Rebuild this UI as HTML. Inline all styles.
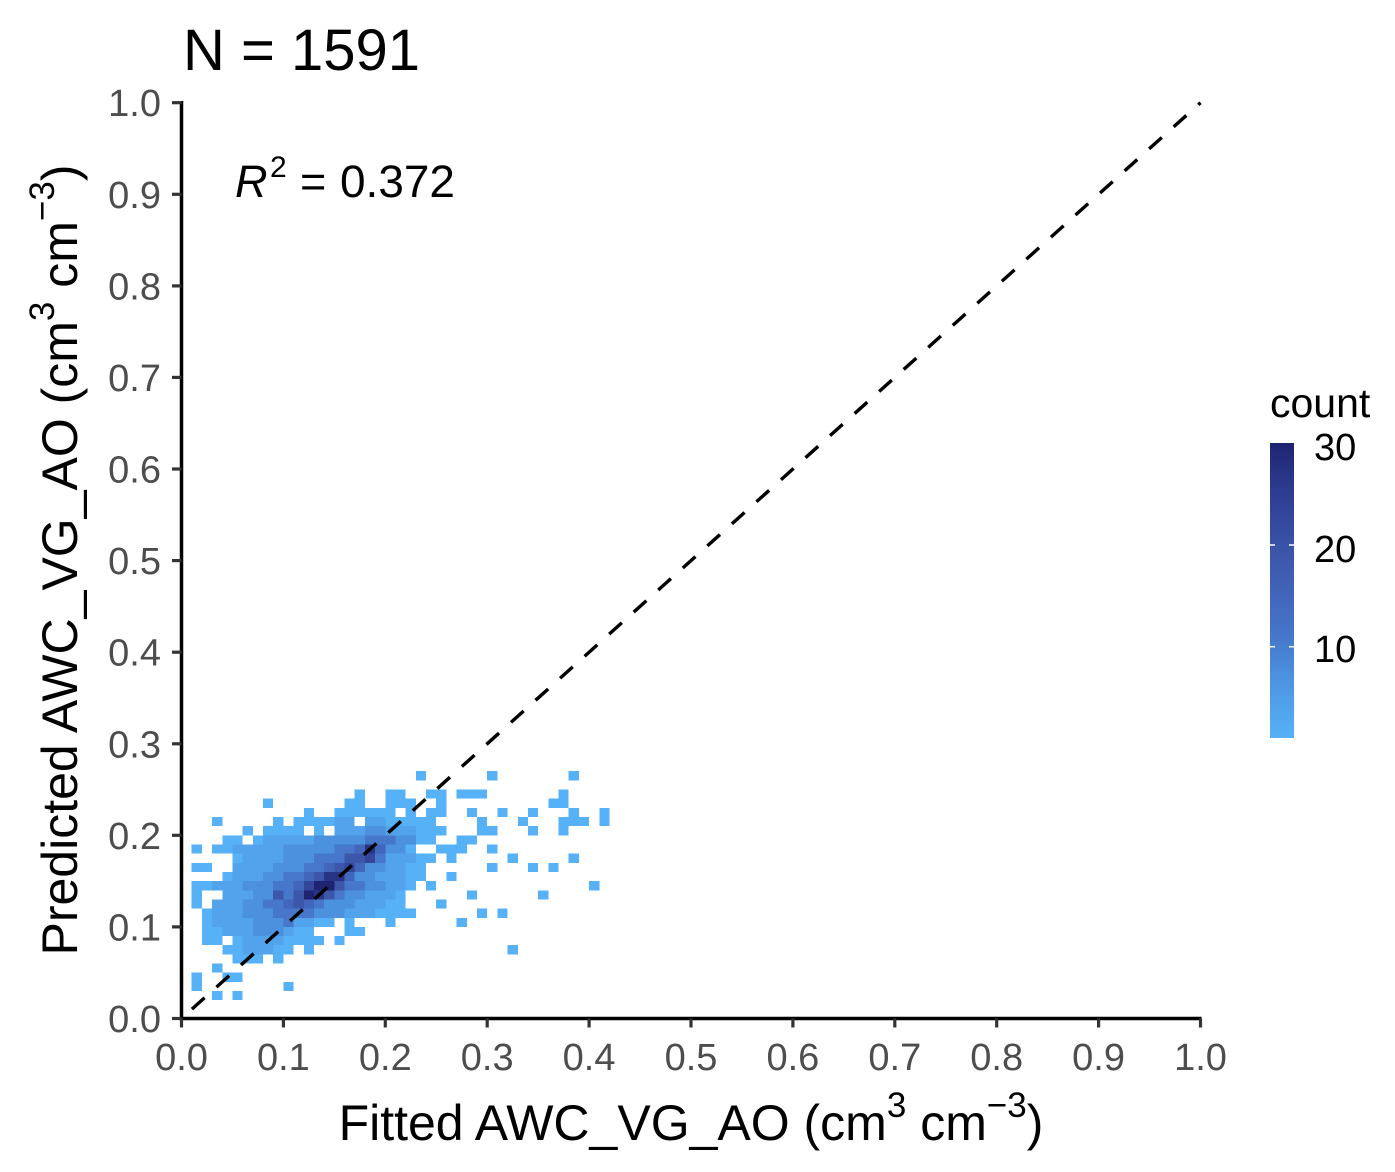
<!DOCTYPE html>
<html>
<head>
<meta charset="utf-8">
<style>
  html, body { margin: 0; padding: 0; background: #ffffff; }
  svg { display: block; }
  text { font-family: "Liberation Sans", Arial, sans-serif; }
</style>
</head>
<body>
<svg width="1395" height="1172" viewBox="0 0 1395 1172" xmlns="http://www.w3.org/2000/svg">
  <defs>
    <linearGradient id="cbar" x1="0" y1="1" x2="0" y2="0">
      <stop offset="0" stop-color="#56B1F7"/>
      <stop offset="0.10" stop-color="#52A3EC"/>
      <stop offset="0.21" stop-color="#4C91DE"/>
      <stop offset="0.34" stop-color="#4677CA"/>
      <stop offset="0.48" stop-color="#4266BC"/>
      <stop offset="0.62" stop-color="#3C56AA"/>
      <stop offset="0.76" stop-color="#33469C"/>
      <stop offset="0.90" stop-color="#283485"/>
      <stop offset="1" stop-color="#1E2372"/>
    </linearGradient>
  </defs>
  <rect x="0" y="0" width="1395" height="1172" fill="#ffffff"/>

  <!-- Heatmap cells: 1 unit = 0.01 in data -->
  <g transform="translate(181.5,1018.5) scale(10.19,-9.158)" shape-rendering="crispEdges">
    <g fill="#56B1F7">
      <rect x="23" y="26" width="1" height="1"/><rect x="30" y="26" width="1" height="1"/><rect x="38" y="26" width="1" height="1"/>
      <rect x="17" y="24" width="1" height="1"/><rect x="20" y="24" width="2" height="1"/><rect x="24" y="24" width="2" height="1"/><rect x="27" y="24" width="3" height="1"/><rect x="37" y="24" width="1" height="1"/>
      <rect x="8" y="23" width="1" height="1"/><rect x="16" y="23" width="2" height="1"/><rect x="20" y="23" width="3" height="1"/><rect x="25" y="23" width="1" height="1"/><rect x="36" y="23" width="2" height="1"/>
      <rect x="12" y="22" width="1" height="1"/><rect x="15" y="22" width="6" height="1"/><rect x="22" y="22" width="1" height="1"/><rect x="24" y="22" width="2" height="1"/><rect x="28" y="22" width="1" height="1"/><rect x="31" y="22" width="1" height="1"/><rect x="34" y="22" width="1" height="1"/><rect x="38" y="22" width="1" height="1"/><rect x="41" y="22" width="1" height="1"/>
      <rect x="3" y="21" width="1" height="1"/><rect x="9" y="21" width="1" height="1"/><rect x="11" y="21" width="6" height="1"/><rect x="18" y="21" width="7" height="1"/><rect x="29" y="21" width="1" height="1"/><rect x="33" y="21" width="1" height="1"/><rect x="37" y="21" width="3" height="1"/><rect x="41" y="21" width="1" height="1"/>
      <rect x="6" y="20" width="1" height="1"/><rect x="8" y="20" width="4" height="1"/><rect x="13" y="20" width="1" height="1"/><rect x="15" y="20" width="11" height="1"/><rect x="29" y="20" width="2" height="1"/><rect x="34" y="20" width="1" height="1"/><rect x="37" y="20" width="1" height="1"/>
      <rect x="4" y="19" width="2" height="1"/><rect x="7" y="19" width="18" height="1"/><rect x="27" y="19" width="2" height="1"/>
      <rect x="1" y="18" width="1" height="1"/><rect x="3" y="18" width="20" height="1"/><rect x="25" y="18" width="3" height="1"/><rect x="30" y="18" width="1" height="1"/>
      <rect x="5" y="17" width="20" height="1"/><rect x="26" y="17" width="1" height="1"/><rect x="32" y="17" width="1" height="1"/><rect x="38" y="17" width="1" height="1"/>
      <rect x="1" y="16" width="2" height="1"/><rect x="5" y="16" width="19" height="1"/><rect x="30" y="16" width="1" height="1"/><rect x="34" y="16" width="1" height="1"/><rect x="36" y="16" width="1" height="1"/>
      <rect x="4" y="15" width="20" height="1"/><rect x="26" y="15" width="1" height="1"/>
      <rect x="1" y="14" width="22" height="1"/><rect x="24" y="14" width="1" height="1"/><rect x="40" y="14" width="1" height="1"/>
      <rect x="1" y="13" width="1" height="1"/><rect x="4" y="13" width="18" height="1"/><rect x="28" y="13" width="1" height="1"/><rect x="35" y="13" width="1" height="1"/>
      <rect x="1" y="12" width="1" height="1"/><rect x="3" y="12" width="19" height="1"/><rect x="25" y="12" width="1" height="1"/>
      <rect x="2" y="11" width="21" height="1"/><rect x="29" y="11" width="1" height="1"/><rect x="31" y="11" width="1" height="1"/>
      <rect x="2" y="10" width="13" height="1"/><rect x="16" y="10" width="1" height="1"/><rect x="20" y="10" width="1" height="1"/><rect x="27" y="10" width="1" height="1"/>
      <rect x="2" y="9" width="11" height="1"/><rect x="16" y="9" width="2" height="1"/>
      <rect x="2" y="8" width="2" height="1"/><rect x="5" y="8" width="9" height="1"/><rect x="15" y="8" width="1" height="1"/>
      <rect x="4" y="7" width="7" height="1"/><rect x="12" y="7" width="1" height="1"/><rect x="32" y="7" width="1" height="1"/>
      <rect x="5" y="6" width="3" height="1"/><rect x="9" y="6" width="1" height="1"/>
      <rect x="3" y="5" width="1" height="1"/>
      <rect x="1" y="4" width="1" height="1"/><rect x="4" y="4" width="2" height="1"/>
      <rect x="1" y="3" width="1" height="1"/><rect x="10" y="3" width="1" height="1"/>
      <rect x="3" y="2" width="1" height="1"/><rect x="5" y="2" width="1" height="1"/>
    </g>
    <g fill="#52A3EC">
      <rect x="15" y="21" width="2" height="1"/><rect x="18" y="21" width="2" height="1"/>
      <rect x="15" y="20" width="3" height="1"/><rect x="20" y="20" width="3" height="1"/>
      <rect x="8" y="19" width="5" height="1"/>
      <rect x="5" y="18" width="5" height="1"/>
      <rect x="6" y="17" width="4" height="1"/><rect x="20" y="17" width="3" height="1"/>
      <rect x="5" y="16" width="4" height="1"/><rect x="20" y="16" width="2" height="1"/>
      <rect x="5" y="15" width="3" height="1"/><rect x="19" y="15" width="3" height="1"/>
      <rect x="3" y="14" width="3" height="1"/><rect x="20" y="14" width="2" height="1"/>
      <rect x="4" y="13" width="3" height="1"/><rect x="18" y="13" width="3" height="1"/>
      <rect x="3" y="12" width="3" height="1"/><rect x="17" y="12" width="3" height="1"/>
      <rect x="3" y="11" width="3" height="1"/><rect x="16" y="11" width="3" height="1"/>
      <rect x="3" y="10" width="4" height="1"/><rect x="11" y="10" width="2" height="1"/>
      <rect x="4" y="9" width="3" height="1"/><rect x="10" y="9" width="1" height="1"/>
      <rect x="6" y="8" width="4" height="1"/>
      <rect x="6" y="7" width="3" height="1"/>
    </g>
    <g fill="#4C91DE">
      <rect x="18" y="20" width="2" height="1"/>
      <rect x="13" y="19" width="5" height="1"/><rect x="21" y="19" width="2" height="1"/>
      <rect x="10" y="18" width="5" height="1"/><rect x="20" y="18" width="2" height="1"/>
      <rect x="10" y="17" width="3" height="1"/>
      <rect x="9" y="16" width="3" height="1"/><rect x="18" y="16" width="2" height="1"/>
      <rect x="8" y="15" width="2" height="1"/><rect x="17" y="15" width="2" height="1"/>
      <rect x="6" y="14" width="3" height="1"/><rect x="18" y="14" width="2" height="1"/>
      <rect x="7" y="13" width="2" height="1"/><rect x="16" y="13" width="2" height="1"/>
      <rect x="6" y="12" width="2" height="1"/><rect x="14" y="12" width="3" height="1"/>
      <rect x="6" y="11" width="3" height="1"/><rect x="13" y="11" width="3" height="1"/>
      <rect x="7" y="10" width="3" height="1"/>
      <rect x="7" y="9" width="3" height="1"/>
    </g>
    <g fill="#4677CA">
      <rect x="18" y="19" width="3" height="1"/>
      <rect x="15" y="18" width="2" height="1"/>
      <rect x="13" y="17" width="3" height="1"/><rect x="19" y="17" width="1" height="1"/>
      <rect x="12" y="16" width="2" height="1"/>
      <rect x="10" y="15" width="2" height="1"/>
      <rect x="9" y="14" width="2" height="1"/><rect x="16" y="14" width="2" height="1"/>
      <rect x="10" y="13" width="1" height="1"/><rect x="15" y="13" width="1" height="1"/>
      <rect x="8" y="12" width="2" height="1"/><rect x="13" y="12" width="1" height="1"/>
      <rect x="9" y="11" width="4" height="1"/>
      <rect x="10" y="10" width="1" height="1"/>
    </g>
    <g fill="#4266BC">
      <rect x="17" y="18" width="1" height="1"/><rect x="19" y="18" width="1" height="1"/>
      <rect x="14" y="16" width="1" height="1"/><rect x="17" y="16" width="1" height="1"/>
      <rect x="12" y="15" width="1" height="1"/><rect x="16" y="15" width="1" height="1"/>
      <rect x="11" y="14" width="1" height="1"/>
      <rect x="10" y="12" width="1" height="1"/><rect x="12" y="12" width="1" height="1"/>
    </g>
    <g fill="#3C56AA">
      <rect x="16" y="17" width="2" height="1"/>
      <rect x="15" y="16" width="1" height="1"/>
      <rect x="13" y="15" width="1" height="1"/>
      <rect x="15" y="14" width="1" height="1"/>
      <rect x="9" y="13" width="1" height="1"/><rect x="11" y="13" width="1" height="1"/><rect x="14" y="13" width="1" height="1"/>
      <rect x="11" y="12" width="1" height="1"/>
    </g>
    <g fill="#33469C">
      <rect x="18" y="17" width="1" height="1"/>
      <rect x="16" y="16" width="1" height="1"/>
      <rect x="12" y="14" width="1" height="1"/>
    </g>
    <g fill="#283485">
      <rect x="18" y="18" width="1" height="1"/>
      <rect x="14" y="15" width="2" height="1"/>
      <rect x="13" y="13" width="1" height="1"/>
    </g>
    <g fill="#1E2372">
      <rect x="13" y="14" width="2" height="1"/>
      <rect x="12" y="13" width="1" height="1"/>
    </g>
  </g>

  <!-- 1:1 dashed line -->
  <line x1="181.5" y1="1018.5" x2="1200.5" y2="102.7" stroke="#000" stroke-width="3.4" stroke-dasharray="17 16" stroke-dashoffset="19"/>

  <!-- Axes -->
  <g stroke="#000" stroke-width="3.5" fill="none">
    <line x1="181.5" y1="101" x2="181.5" y2="1020.2"/>
    <line x1="179.8" y1="1018.5" x2="1201.5" y2="1018.5"/>
  </g>
  <g stroke="#333333" stroke-width="3.2">
    <line x1="172" y1="1018.5" x2="181.5" y2="1018.5"/>
    <line x1="172" y1="926.9" x2="181.5" y2="926.9"/>
    <line x1="172" y1="835.3" x2="181.5" y2="835.3"/>
    <line x1="172" y1="743.8" x2="181.5" y2="743.8"/>
    <line x1="172" y1="652.2" x2="181.5" y2="652.2"/>
    <line x1="172" y1="560.6" x2="181.5" y2="560.6"/>
    <line x1="172" y1="469.0" x2="181.5" y2="469.0"/>
    <line x1="172" y1="377.4" x2="181.5" y2="377.4"/>
    <line x1="172" y1="285.9" x2="181.5" y2="285.9"/>
    <line x1="172" y1="194.3" x2="181.5" y2="194.3"/>
    <line x1="172" y1="102.7" x2="181.5" y2="102.7"/>
  </g>
  <g stroke="#333333" stroke-width="3.2">
    <line x1="181.5" y1="1018.5" x2="181.5" y2="1027.5"/>
    <line x1="283.4" y1="1018.5" x2="283.4" y2="1027.5"/>
    <line x1="385.3" y1="1018.5" x2="385.3" y2="1027.5"/>
    <line x1="487.2" y1="1018.5" x2="487.2" y2="1027.5"/>
    <line x1="589.1" y1="1018.5" x2="589.1" y2="1027.5"/>
    <line x1="691.0" y1="1018.5" x2="691.0" y2="1027.5"/>
    <line x1="792.9" y1="1018.5" x2="792.9" y2="1027.5"/>
    <line x1="894.8" y1="1018.5" x2="894.8" y2="1027.5"/>
    <line x1="996.7" y1="1018.5" x2="996.7" y2="1027.5"/>
    <line x1="1098.6" y1="1018.5" x2="1098.6" y2="1027.5"/>
    <line x1="1200.5" y1="1018.5" x2="1200.5" y2="1027.5"/>
  </g>

  <!-- Y tick labels -->
  <g fill="#4D4D4D" font-size="38" text-anchor="end">
    <text x="161" y="1032">0.0</text>
    <text x="161" y="940.4">0.1</text>
    <text x="161" y="848.8">0.2</text>
    <text x="161" y="757.3">0.3</text>
    <text x="161" y="665.7">0.4</text>
    <text x="161" y="574.1">0.5</text>
    <text x="161" y="482.5">0.6</text>
    <text x="161" y="390.9">0.7</text>
    <text x="161" y="299.4">0.8</text>
    <text x="161" y="207.8">0.9</text>
    <text x="161" y="116.2">1.0</text>
  </g>
  <!-- X tick labels -->
  <g fill="#4D4D4D" font-size="38" text-anchor="middle">
    <text x="181.5" y="1070">0.0</text>
    <text x="283.4" y="1070">0.1</text>
    <text x="385.3" y="1070">0.2</text>
    <text x="487.2" y="1070">0.3</text>
    <text x="589.1" y="1070">0.4</text>
    <text x="691.0" y="1070">0.5</text>
    <text x="792.9" y="1070">0.6</text>
    <text x="894.8" y="1070">0.7</text>
    <text x="996.7" y="1070">0.8</text>
    <text x="1098.6" y="1070">0.9</text>
    <text x="1200.5" y="1070">1.0</text>
  </g>

  <!-- Title -->
  <text x="183" y="70" font-size="58" fill="#000">N = 1591</text>

  <!-- R^2 annotation -->
  <text x="235" y="197" font-size="45" font-style="italic" fill="#000">R</text>
  <text x="270" y="177" font-size="30" fill="#000">2</text>
  <text x="300" y="197" font-size="45" fill="#000">=</text>
  <text x="340" y="197" font-size="45" fill="#000" textLength="115" lengthAdjust="spacingAndGlyphs">0.372</text>

  <!-- X axis title -->
  <text x="691" y="1140" font-size="50" fill="#000" text-anchor="middle">Fitted AWC_VG_AO (cm<tspan font-size="35" dy="-23">3</tspan><tspan dy="23"> cm</tspan><tspan font-size="35" dy="-23">−3</tspan><tspan dy="23">)</tspan></text>

  <!-- Y axis title -->
  <g transform="translate(77,560) rotate(-90)">
    <text x="0" y="0" font-size="50" fill="#000" text-anchor="middle">Predicted AWC_VG_AO (cm<tspan font-size="35" dy="-23">3</tspan><tspan dy="23"> cm</tspan><tspan font-size="35" dy="-23">−3</tspan><tspan dy="23">)</tspan></text>
  </g>

  <!-- Legend -->
  <text x="1270" y="417" font-size="41" fill="#000">count</text>
  <rect x="1270" y="443" width="24" height="295" fill="url(#cbar)"/>
  <g stroke="#ffffff" stroke-width="1.5">
    <line x1="1270" y1="545" x2="1275" y2="545"/>
    <line x1="1289" y1="545" x2="1294" y2="545"/>
    <line x1="1270" y1="646.7" x2="1275" y2="646.7"/>
    <line x1="1289" y1="646.7" x2="1294" y2="646.7"/>
  </g>
  <g font-size="38" fill="#000">
    <text x="1314" y="460">30</text>
    <text x="1314" y="562">20</text>
    <text x="1314" y="662">10</text>
  </g>
</svg>
</body>
</html>
